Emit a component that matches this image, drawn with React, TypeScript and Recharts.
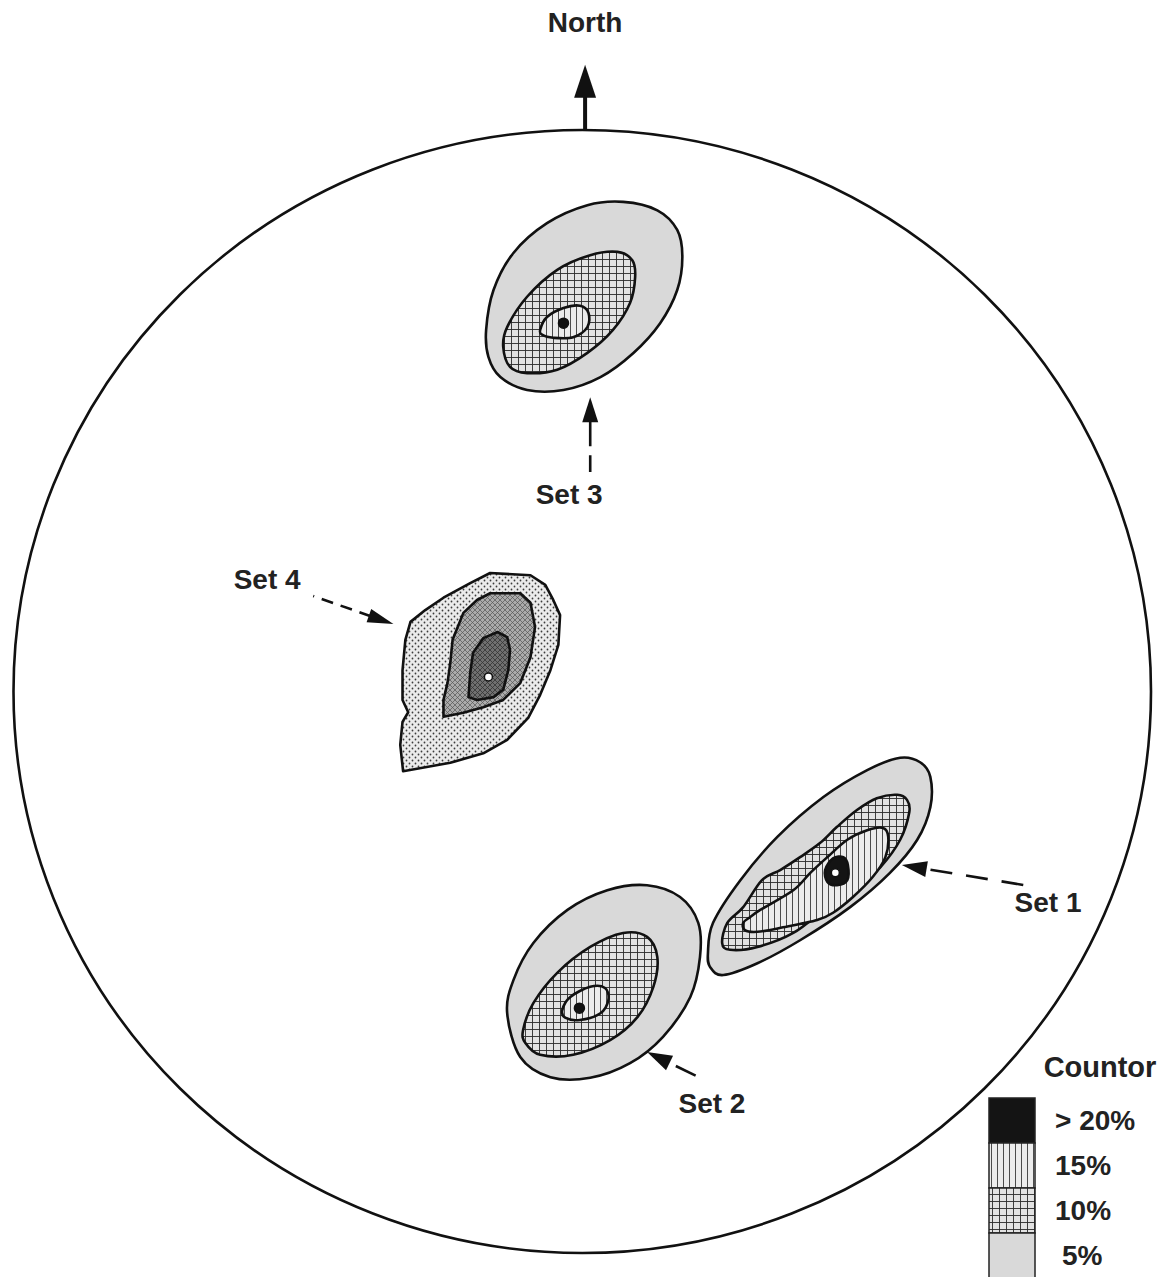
import React from "react"
import {
 ScatterChart,
 Scatter,
 XAxis,
 YAxis,
 ReferenceArea,
 ReferenceLine,
 ReferenceDot,
 Legend,
} from "recharts"

type Pt = [number, number]

// net coordinates in % of the primitive radius (x = East, y = North)

const set1Five: Pt[] = [
 [22.1, -46.6], [23.0, -41.2], [27.8, -33.6], [34.3, -25.9], [42.4, -18.8], [50.1, -14.0],
 [55.9, -11.8], [59.4, -12.6], [61.2, -15.2], [61.2, -20.6], [58.9, -26.4], [54.1, -32.3],
 [47.1, -38.4], [38.3, -44.3], [30.8, -48.4], [24.8, -50.5], [22.5, -49.1],
]
const set1Ten: Pt[] = [
 [24.6, -44.8], [25.5, -41.2], [28.3, -38.4], [31.6, -33.6], [34.8, -31.8], [38.3, -29.5],
 [41.8, -27.0], [44.8, -24.1], [48.3, -21.1], [51.8, -19.0], [55.4, -18.4], [57.1, -19.3],
 [57.5, -21.5], [55.9, -26.4], [52.4, -31.3], [48.3, -34.8], [43.1, -38.4], [37.1, -43.0],
 [30.8, -45.5], [26.0, -46.0],
]
const set1Fifteen: Pt[] = [
 [28.3, -41.2], [29.5, -40.2], [31.3, -38.9], [37.1, -35.4], [40.1, -32.3], [43.1, -29.5],
 [46.6, -26.4], [50.1, -24.7], [52.9, -24.3], [53.8, -25.9], [53.3, -29.5], [51.1, -33.0],
 [47.6, -36.6], [44.1, -39.4], [41.3, -40.7], [35.3, -42.0], [30.8, -42.8], [28.6, -42.5],
]
const set1Twenty: Pt[] = [
 [44.1, -29.7], [45.9, -29.5], [46.7, -30.9], [46.6, -33.6], [44.8, -34.5], [43.1, -33.9], [42.7, -31.8],
]
const set1Max: Pt = [44.5, -32.3]

const set2Five: Pt[] = [
 [-13.2, -57.3], [-12.1, -51.4], [-8.6, -44.8], [-2.6, -38.9], [4.4, -35.4], [11.4, -34.5],
 [17.2, -36.6], [20.4, -41.2], [20.7, -47.3], [19.0, -54.4], [14.2, -61.5], [8.4, -66.2],
 [1.4, -68.8], [-5.6, -68.7], [-10.9, -65.1],
]
const set2Ten: Pt[] = [
 [-10.4, -60.3], [-8.6, -55.5], [-4.4, -50.1], [1.4, -45.5], [7.2, -43.0], [11.4, -43.7],
 [13.2, -47.3], [12.5, -52.6], [9.7, -58.0], [4.9, -62.1], [-1.6, -64.7], [-7.4, -64.7], [-10.0, -62.6],
]
const set2Fifteen: Pt[] = [
 [-3.5, -56.7], [-2.1, -54.4], [1.4, -52.6], [4.0, -52.8], [4.6, -54.9], [3.2, -57.3], [-0.4, -58.5], [-3.0, -58.1],
]
const set2Max: Pt = [-0.5, -56.4]

const set3Five: Pt[] = [
 [-16.9, 64.4], [-15.6, 71.5], [-12.1, 78.1], [-6.2, 83.4], [0.9, 86.6], [7.2, 87.2], [13.2, 85.7],
 [16.7, 82.2], [17.6, 77.4], [16.7, 71.5], [13.7, 65.6], [9.0, 60.3], [3.2, 56.0], [-3.3, 53.7],
 [-9.7, 53.7], [-14.4, 56.0], [-16.5, 59.6],
]
const set3Ten: Pt[] = [
 [-13.9, 61.4], [-13.2, 64.9], [-9.7, 70.3], [-4.4, 75.1], [1.4, 77.7], [6.2, 78.3], [8.8, 76.8],
 [9.3, 73.8], [8.4, 69.2], [5.4, 64.4], [0.9, 60.3], [-4.4, 57.3], [-9.7, 56.7], [-12.7, 57.8],
]
const set3Fifteen: Pt[] = [
 [-7.4, 64.4], [-6.2, 66.7], [-3.3, 68.3], [-0.4, 68.7], [1.1, 67.4], [0.9, 64.9], [-1.6, 63.1],
 [-5.1, 63.0], [-7.0, 63.5],
]
const set3Max: Pt = [-3.3, 65.6]

const set4Outer: Pt[] = [
 [-16.2, 21.1], [-9.1, 20.7], [-6.5, 19.0], [-5.1, 16.3], [-3.9, 13.6], [-4.2, 8.3], [-5.6, 3.8],
 [-7.4, -0.6], [-9.5, -4.7], [-13.2, -8.6], [-17.4, -11.0], [-23.2, -12.7], [-31.5, -14.2],
 [-32.0, -9.5], [-31.6, -5.4], [-30.6, -3.7], [-31.6, -1.5], [-31.6, 3.8], [-31.1, 9.2],
 [-30.2, 12.4], [-27.6, 14.5], [-24.4, 16.7], [-19.7, 19.3],
]
const set4Middle: Pt[] = [
 [-16.2, 17.5], [-10.9, 17.5], [-9.1, 15.8], [-8.3, 11.5], [-9.1, 6.1], [-10.9, 1.5], [-13.9, -1.5],
 [-17.4, -2.8], [-20.9, -3.8], [-24.4, -4.5], [-24.4, -1.5], [-23.7, 1.5], [-23.2, 5.1], [-22.8, 9.2],
 [-20.9, 14.0], [-18.5, 16.3],
]
const set4Inner: Pt[] = [
 [-14.9, 10.6], [-13.2, 9.7], [-12.7, 7.4], [-13.0, 3.8], [-13.9, 0.3], [-15.6, -1.0], [-18.5, -1.5],
 [-20.0, -1.0], [-19.7, 3.3], [-19.2, 6.9], [-17.4, 9.5],
]
const set4Max: Pt = [-16.5, 2.6]

const setNames = ["Set 1", "Set 2", "Set 3", "Set 4"]
const contourLevels = ["> 20%", "15%", "10%", "5%"]
const levelFills = ["#141414", "url(#hatch15)", "url(#hatch10)", "url(#fill5)"]

const toRows = (pts: Pt[]) => pts.map(([x, y]) => ({ x, y }))

const contours = [
 { id: "s3-5", pts: set3Five, fill: "url(#fill5)" },
 { id: "s3-10", pts: set3Ten, fill: "url(#hatch10)" },
 { id: "s3-15", pts: set3Fifteen, fill: "url(#hatch15)" },
 { id: "s4-a", pts: set4Outer, fill: "url(#stipple)", linear: true },
 { id: "s4-b", pts: set4Middle, fill: "url(#grayX)", linear: true },
 { id: "s4-c", pts: set4Inner, fill: "url(#darkX)", linear: true },
 { id: "s1-5", pts: set1Five, fill: "url(#fill5)" },
 { id: "s1-10", pts: set1Ten, fill: "url(#hatch10)" },
 { id: "s1-15", pts: set1Fifteen, fill: "url(#hatch15)" },
 { id: "s1-20", pts: set1Twenty, fill: "#141414" },
 { id: "s2-5", pts: set2Five, fill: "url(#fill5)" },
 { id: "s2-10", pts: set2Ten, fill: "url(#hatch10)" },
 { id: "s2-15", pts: set2Fifteen, fill: "url(#hatch15)" },
]

const maxima = [
 { pt: set1Max, r: 4, fill: "#fff" },
 { pt: set2Max, r: 5, fill: "#111" },
 { pt: set3Max, r: 5, fill: "#111" },
 { pt: set4Max, r: 4, fill: "#fff" },
]

// annotation arrows: tip -> tail
const pointers = [
 { tip: [0.5, 111.6], tail: [0.5, 100], head: 33, half: 11, width: 4, dash: undefined, offset: 0 },
 { tip: [56.2, -30.9], tail: [78.4, -34.6], head: 25, half: 8, width: 2.6, dash: "22 14", offset: -6 },
 { tip: [11.4, -64.2], tail: [20.7, -68.8], head: 25, half: 8, width: 2.6, dash: "22 100", offset: -9 },
 { tip: [1.4, 52.4], tail: [1.4, 39.1], head: 25, half: 8, width: 2.6, dash: "26 9", offset: 0 },
 { tip: [-33.2, 12.0], tail: [-47.3, 17.0], head: 26, half: 7, width: 2.6, dash: "12 8", offset: 0 },
]

const labels = [
 { text: "North", at: [0.5, 119.2] },
 { text: setNames[0], at: [81.9, -37.5] },
 { text: setNames[1], at: [22.8, -73.3] },
 { text: setNames[2], at: [-2.3, 35.0] },
 { text: setNames[3], at: [-55.4, 19.9] },
]

const FONT = "'Liberation Sans', Arial, Helvetica, sans-serif"

function smoothPath(p: { x: number; y: number }[]) {
 const n = p.length
 let d = `M${p[0].x},${p[0].y}`
 for (let i = 0; i < n; i++) {
  const a = p[(i - 1 + n) % n]
  const b = p[i]
  const c = p[(i + 1) % n]
  const e = p[(i + 2) % n]
  d += `C${b.x + (c.x - a.x) / 6},${b.y + (c.y - a.y) / 6} ${c.x - (e.x - b.x) / 6},${c.y - (e.y - b.y) / 6} ${c.x},${c.y}`
 }
 return d + "Z"
}

function linearPath(p: { x: number; y: number }[]) {
 return p.map((q, i) => `${i ? "L" : "M"}${q.x},${q.y}`).join("") + "Z"
}

const contourLine = (fill: string, linear?: boolean) => (props: any) => (
 <path
  d={linear ? linearPath(props.points) : smoothPath(props.points)}
  fill={fill}
  stroke="#111"
  strokeWidth={2.6}
  strokeLinejoin="round"
 />
)

const arrowShape = (cfg: (typeof pointers)[number]) => (props: any) => {
 const { x1, y1, x2, y2 } = props
 const len = Math.hypot(x2 - x1, y2 - y1)
 const ux = (x2 - x1) / len
 const uy = (y2 - y1) / len
 const bx = x1 + ux * cfg.head
 const by = y1 + uy * cfg.head
 const px = -uy * cfg.half
 const py = ux * cfg.half
 return (
  <g>
   <line
    x1={bx - ux * 2}
    y1={by - uy * 2}
    x2={x2}
    y2={y2}
    stroke="#111"
    strokeWidth={cfg.width}
    strokeDasharray={cfg.dash}
    strokeDashoffset={cfg.offset}
   />
   <polygon points={`${x1},${y1} ${bx + px},${by + py} ${bx - px},${by - py}`} fill="#111" />
  </g>
 )
}

function ContourKey() {
 return (
  <svg width={186} height={237} style={{ display: "block" }}>
   <text x={115} y={37} textAnchor="middle" fontFamily={FONT} fontWeight={700} fontSize={29} fill="#222">
    Countor
   </text>
   {contourLevels.map((lvl, i) => (
    <g key={lvl}>
     <rect x={4} y={58 + i * 45} width={46} height={i === 3 ? 60 : 45} fill={levelFills[i]} stroke="#222" strokeWidth={1.5} />
     <text
      x={i === 3 ? 77 : 70}
      y={80 + i * 45}
      dominantBaseline="central"
      fontFamily={FONT}
      fontWeight={700}
      fontSize={28}
      fill="#222"
     >
      {lvl}
     </text>
    </g>
   ))}
  </svg>
 )
}

export default function App() {
 return (
  <div style={{ position: "absolute", left: 0, top: 0, background: "#fff" }}>
   <ScatterChart width={1171} height={1277} margin={{ top: 130, right: 20, bottom: 24, left: 13.5 }}>
    <defs>
     <pattern id="fill5" width="4" height="4" patternUnits="userSpaceOnUse">
      <rect width="4" height="4" fill="#d9d9d9" />
     </pattern>
     <pattern id="hatch10" width="7" height="7" patternUnits="userSpaceOnUse">
      <rect width="7" height="7" fill="#e2e2e2" />
      <path d="M0 0.5H7M0.5 0V7" stroke="#2a2a2a" strokeWidth="0.9" />
     </pattern>
     <pattern id="hatch15" width="6" height="6" patternUnits="userSpaceOnUse">
      <rect width="6" height="6" fill="#ececec" />
      <path d="M0.5 0V6" stroke="#3a3a3a" strokeWidth="0.9" />
     </pattern>
     <pattern id="stipple" width="6" height="6" patternUnits="userSpaceOnUse">
      <rect width="6" height="6" fill="#ebebeb" />
      <circle cx="1.5" cy="1.5" r="0.9" fill="#3c3c3c" />
      <circle cx="4.5" cy="4.5" r="0.9" fill="#3c3c3c" />
     </pattern>
     <pattern id="grayX" width="5" height="5" patternUnits="userSpaceOnUse">
      <rect width="5" height="5" fill="#ababab" />
      <path d="M0 0L5 5M5 0L0 5" stroke="#555" strokeWidth="0.7" />
     </pattern>
     <pattern id="darkX" width="5" height="5" patternUnits="userSpaceOnUse">
      <rect width="5" height="5" fill="#707070" />
      <path d="M0 0L5 5M5 0L0 5" stroke="#333" strokeWidth="0.8" />
     </pattern>
    </defs>

    <XAxis type="number" dataKey="x" domain={[-100, 100]} hide />
    <YAxis type="number" dataKey="y" domain={[-100, 100]} hide />

    <ReferenceArea
     x1={-100}
     x2={100}
     y1={-100}
     y2={100}
     shape={(p: any) => (
      <ellipse
       cx={p.x + p.width / 2}
       cy={p.y + p.height / 2}
       rx={p.width / 2}
       ry={p.height / 2}
       fill="none"
       stroke="#111"
       strokeWidth={2.6}
      />
     )}
    />

    {contours.map((c) => (
     <Scatter
      key={c.id}
      data={toRows(c.pts)}
      line={contourLine(c.fill, c.linear)}
      shape={() => <g />}
      legendType="none"
      isAnimationActive={false}
     />
    ))}

    {maxima.map((m, i) => (
     <Scatter
      key={"max" + i}
      data={toRows([m.pt])}
      shape={(p: any) => <circle cx={p.cx} cy={p.cy} r={m.r} fill={m.fill} stroke="#111" strokeWidth={1.5} />}
      legendType="none"
      isAnimationActive={false}
     />
    ))}

    {pointers.map((a, i) => (
     <ReferenceLine
      key={"arrow" + i}
      segment={[
       { x: a.tip[0], y: a.tip[1] },
       { x: a.tail[0], y: a.tail[1] },
      ]}
      ifOverflow="visible"
      shape={arrowShape(a)}
     />
    ))}

    {labels.map((l) => (
     <ReferenceDot
      key={l.text}
      x={l.at[0]}
      y={l.at[1]}
      ifOverflow="visible"
      shape={(p: any) => (
       <text
        x={p.cx}
        y={p.cy}
        textAnchor="middle"
        dominantBaseline="central"
        fontFamily={FONT}
        fontWeight={700}
        fontSize={28}
        fill="#222"
       >
        {l.text}
       </text>
      )}
     />
    ))}

    <Legend
     layout="vertical"
     align="center"
     verticalAlign="middle"
     content={() => <ContourKey />}
     wrapperStyle={{ left: 985, top: 1040, width: 186, height: 237, overflow: "hidden" }}
    />
   </ScatterChart>
  </div>
 )
}
